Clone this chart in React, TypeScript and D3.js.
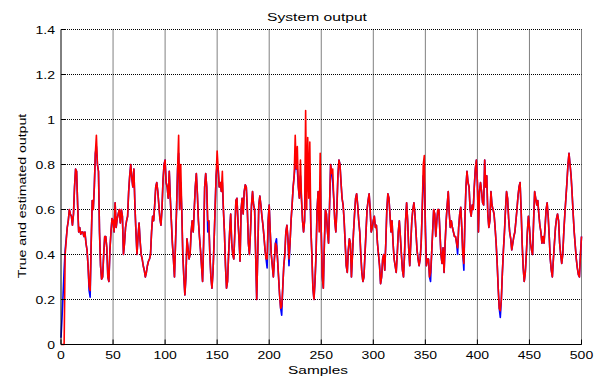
import React from "react";
import * as d3 from "d3";

// True system output, one value per sample (0..500)
const trueOutput: number[] = [
  0.03, 0.12, 0.22, 0.33, 0.42, 0.47, 0.52, 0.55, 0.60, 0.58,
  0.57, 0.53, 0.58, 0.70, 0.78, 0.77, 0.62, 0.50, 0.52, 0.49,
  0.50, 0.50, 0.48, 0.50, 0.45, 0.42, 0.35, 0.24, 0.21, 0.45,
  0.64, 0.60, 0.70, 0.85, 0.88, 0.80, 0.77, 0.50, 0.35, 0.29,
  0.30, 0.40, 0.48, 0.48, 0.43, 0.30, 0.28, 0.42, 0.50, 0.56,
  0.55, 0.50, 0.63, 0.52, 0.56, 0.58, 0.60, 0.54, 0.60, 0.57,
  0.40, 0.45, 0.52, 0.55, 0.57, 0.68, 0.75, 0.80, 0.74, 0.70,
  0.78, 0.62, 0.50, 0.40, 0.48, 0.54, 0.46, 0.40, 0.38, 0.35,
  0.33, 0.30, 0.32, 0.35, 0.37, 0.38, 0.40, 0.50, 0.57, 0.55,
  0.62, 0.70, 0.72, 0.68, 0.62, 0.56, 0.53, 0.60, 0.73, 0.80,
  0.82, 0.72, 0.70, 0.65, 0.77, 0.65, 0.55, 0.45, 0.38, 0.30,
  0.45, 0.60, 0.78, 0.85, 0.60, 0.72, 0.60, 0.40, 0.30, 0.22,
  0.30, 0.47, 0.43, 0.38, 0.40, 0.50, 0.55, 0.50, 0.60, 0.70,
  0.76, 0.67, 0.55, 0.48, 0.42, 0.35, 0.28, 0.45, 0.70, 0.76,
  0.70, 0.50, 0.55, 0.40, 0.30, 0.25, 0.32, 0.45, 0.60, 0.75,
  0.80, 0.78, 0.70, 0.72, 0.68, 0.72, 0.60, 0.50, 0.35, 0.25,
  0.28, 0.40, 0.50, 0.58, 0.45, 0.40, 0.38, 0.50, 0.64, 0.65,
  0.55, 0.47, 0.37, 0.60, 0.65, 0.58, 0.68, 0.71, 0.70, 0.60,
  0.45, 0.40, 0.50, 0.62, 0.68, 0.62, 0.60, 0.40, 0.20, 0.40,
  0.62, 0.66, 0.62, 0.57, 0.53, 0.48, 0.42, 0.38, 0.34, 0.55,
  0.62, 0.50, 0.40, 0.35, 0.30, 0.38, 0.45, 0.47, 0.38, 0.30,
  0.22, 0.16, 0.13, 0.25, 0.35, 0.40, 0.50, 0.53, 0.47, 0.35,
  0.45, 0.55, 0.62, 0.70, 0.75, 0.80, 0.78, 0.78, 0.70, 0.65,
  0.75, 0.65, 0.55, 0.50, 0.55, 0.80, 0.68, 0.80, 0.72, 0.75,
  0.52, 0.40, 0.25, 0.20, 0.28, 0.40, 0.60, 0.68, 0.55, 0.72,
  0.50, 0.30, 0.25, 0.45, 0.60, 0.58, 0.50, 0.45, 0.62, 0.80,
  0.76, 0.72, 0.65, 0.55, 0.50, 0.60, 0.75, 0.82, 0.80, 0.72,
  0.65, 0.62, 0.55, 0.45, 0.35, 0.32, 0.42, 0.47, 0.45, 0.30,
  0.40, 0.50, 0.58, 0.65, 0.67, 0.62, 0.55, 0.50, 0.40, 0.32,
  0.28, 0.30, 0.40, 0.50, 0.60, 0.64, 0.67, 0.60, 0.50, 0.52,
  0.55, 0.57, 0.52, 0.53, 0.45, 0.40, 0.35, 0.27, 0.30, 0.38,
  0.40, 0.33, 0.45, 0.60, 0.67, 0.65, 0.58, 0.50, 0.55, 0.45,
  0.38, 0.35, 0.32, 0.40, 0.50, 0.55, 0.48, 0.40, 0.33, 0.30,
  0.40, 0.55, 0.63, 0.55, 0.43, 0.35, 0.45, 0.55, 0.60, 0.63,
  0.58, 0.50, 0.42, 0.38, 0.35, 0.38, 0.45, 0.60, 0.75, 0.72,
  0.55, 0.35, 0.38, 0.38, 0.30, 0.28, 0.40, 0.50, 0.60, 0.58,
  0.48, 0.55, 0.60, 0.60, 0.50, 0.40, 0.36, 0.43, 0.32, 0.45,
  0.55, 0.62, 0.68, 0.58, 0.52, 0.55, 0.52, 0.50, 0.48, 0.48,
  0.45, 0.40, 0.52, 0.58, 0.61, 0.52, 0.40, 0.33, 0.55, 0.70,
  0.77, 0.72, 0.70, 0.60, 0.57, 0.62, 0.60, 0.70, 0.78, 0.82,
  0.72, 0.50, 0.68, 0.72, 0.68, 0.63, 0.62, 0.82, 0.70, 0.75,
  0.58, 0.52, 0.55, 0.68, 0.62, 0.60, 0.58, 0.52, 0.45, 0.36,
  0.25, 0.16, 0.12, 0.20, 0.32, 0.42, 0.50, 0.60, 0.68, 0.65,
  0.56, 0.50, 0.47, 0.42, 0.45, 0.48, 0.50, 0.55, 0.60, 0.66,
  0.70, 0.72, 0.60, 0.45, 0.34, 0.28, 0.32, 0.40, 0.50, 0.57,
  0.52, 0.45, 0.42, 0.40, 0.55, 0.68, 0.65, 0.62, 0.64, 0.58,
  0.53, 0.50, 0.45, 0.48, 0.45, 0.52, 0.60, 0.63, 0.57, 0.48,
  0.38, 0.33, 0.30, 0.38, 0.45, 0.52, 0.56, 0.58, 0.55, 0.45,
  0.40, 0.36, 0.40, 0.50, 0.58, 0.65, 0.72, 0.80, 0.85, 0.80,
  0.75, 0.67, 0.58, 0.50, 0.44, 0.38, 0.34, 0.31, 0.30, 0.40,
  0.48,
];

// Estimated output from the model, one value per sample (0..500)
const estimatedOutput: number[] = [
  0.00, 0.00, 0.00, 0.00, 0.40, 0.46, 0.52, 0.55, 0.60, 0.58,
  0.57, 0.53, 0.58, 0.70, 0.78, 0.77, 0.62, 0.50, 0.52, 0.49,
  0.50, 0.50, 0.48, 0.50, 0.45, 0.42, 0.35, 0.26, 0.24, 0.45,
  0.64, 0.60, 0.70, 0.85, 0.93, 0.80, 0.77, 0.50, 0.35, 0.29,
  0.30, 0.40, 0.48, 0.48, 0.43, 0.30, 0.28, 0.42, 0.50, 0.56,
  0.55, 0.50, 0.63, 0.52, 0.56, 0.58, 0.60, 0.54, 0.60, 0.57,
  0.40, 0.45, 0.52, 0.55, 0.57, 0.68, 0.75, 0.80, 0.74, 0.70,
  0.78, 0.62, 0.50, 0.40, 0.48, 0.54, 0.46, 0.40, 0.38, 0.35,
  0.33, 0.30, 0.32, 0.35, 0.37, 0.38, 0.40, 0.50, 0.57, 0.55,
  0.62, 0.70, 0.72, 0.68, 0.62, 0.56, 0.53, 0.60, 0.73, 0.80,
  0.82, 0.72, 0.70, 0.65, 0.77, 0.65, 0.55, 0.45, 0.38, 0.30,
  0.45, 0.60, 0.78, 0.93, 0.60, 0.80, 0.60, 0.40, 0.30, 0.22,
  0.30, 0.47, 0.43, 0.38, 0.40, 0.50, 0.55, 0.50, 0.60, 0.70,
  0.76, 0.67, 0.55, 0.48, 0.42, 0.35, 0.28, 0.45, 0.70, 0.76,
  0.70, 0.55, 0.55, 0.40, 0.30, 0.25, 0.32, 0.45, 0.60, 0.75,
  0.86, 0.78, 0.70, 0.72, 0.68, 0.77, 0.60, 0.50, 0.35, 0.25,
  0.28, 0.40, 0.50, 0.58, 0.45, 0.40, 0.38, 0.50, 0.64, 0.65,
  0.55, 0.47, 0.37, 0.60, 0.65, 0.58, 0.68, 0.71, 0.70, 0.60,
  0.45, 0.40, 0.50, 0.62, 0.68, 0.62, 0.60, 0.40, 0.20, 0.40,
  0.62, 0.66, 0.62, 0.57, 0.53, 0.48, 0.42, 0.38, 0.38, 0.55,
  0.62, 0.50, 0.40, 0.35, 0.30, 0.38, 0.45, 0.44, 0.38, 0.30,
  0.22, 0.16, 0.17, 0.25, 0.35, 0.40, 0.50, 0.53, 0.47, 0.38,
  0.45, 0.55, 0.62, 0.70, 0.75, 0.93, 0.78, 0.88, 0.70, 0.65,
  0.82, 0.65, 0.55, 0.50, 0.55, 1.04, 0.60, 0.92, 0.65, 0.90,
  0.52, 0.40, 0.25, 0.20, 0.28, 0.40, 0.60, 0.68, 0.50, 0.85,
  0.50, 0.30, 0.25, 0.45, 0.60, 0.58, 0.50, 0.45, 0.62, 0.80,
  0.76, 0.78, 0.65, 0.55, 0.50, 0.60, 0.75, 0.82, 0.80, 0.72,
  0.65, 0.62, 0.55, 0.45, 0.35, 0.32, 0.42, 0.47, 0.45, 0.30,
  0.40, 0.50, 0.58, 0.65, 0.67, 0.62, 0.55, 0.50, 0.40, 0.32,
  0.28, 0.30, 0.40, 0.50, 0.60, 0.64, 0.67, 0.60, 0.50, 0.52,
  0.55, 0.57, 0.52, 0.53, 0.45, 0.40, 0.35, 0.27, 0.30, 0.38,
  0.40, 0.33, 0.45, 0.60, 0.67, 0.65, 0.58, 0.50, 0.55, 0.45,
  0.38, 0.35, 0.32, 0.40, 0.50, 0.55, 0.48, 0.40, 0.33, 0.30,
  0.40, 0.55, 0.63, 0.55, 0.43, 0.35, 0.45, 0.55, 0.60, 0.63,
  0.58, 0.50, 0.42, 0.38, 0.35, 0.38, 0.45, 0.60, 0.80, 0.84,
  0.50, 0.35, 0.38, 0.38, 0.30, 0.32, 0.40, 0.50, 0.60, 0.58,
  0.48, 0.55, 0.60, 0.60, 0.50, 0.40, 0.36, 0.43, 0.32, 0.45,
  0.55, 0.62, 0.68, 0.58, 0.52, 0.55, 0.52, 0.50, 0.48, 0.48,
  0.45, 0.43, 0.52, 0.58, 0.61, 0.52, 0.40, 0.36, 0.55, 0.70,
  0.77, 0.72, 0.70, 0.60, 0.57, 0.62, 0.60, 0.70, 0.78, 0.82,
  0.72, 0.50, 0.68, 0.72, 0.68, 0.63, 0.62, 0.82, 0.70, 0.75,
  0.58, 0.52, 0.55, 0.68, 0.62, 0.60, 0.58, 0.52, 0.45, 0.36,
  0.25, 0.16, 0.15, 0.20, 0.32, 0.42, 0.50, 0.60, 0.68, 0.65,
  0.56, 0.50, 0.47, 0.42, 0.45, 0.48, 0.50, 0.55, 0.60, 0.66,
  0.70, 0.72, 0.60, 0.45, 0.34, 0.28, 0.32, 0.40, 0.50, 0.57,
  0.52, 0.45, 0.42, 0.40, 0.55, 0.68, 0.65, 0.62, 0.64, 0.58,
  0.53, 0.50, 0.45, 0.48, 0.45, 0.52, 0.60, 0.63, 0.57, 0.48,
  0.38, 0.33, 0.30, 0.38, 0.45, 0.52, 0.56, 0.58, 0.55, 0.45,
  0.40, 0.36, 0.40, 0.50, 0.58, 0.65, 0.72, 0.80, 0.85, 0.80,
  0.75, 0.67, 0.58, 0.50, 0.44, 0.38, 0.34, 0.31, 0.30, 0.40,
  0.48,
];

const xTicks: number[] = [0, 50, 100, 150, 200, 250, 300, 350, 400, 450, 500];
const yTicks: number[] = [0, 0.2, 0.4, 0.6, 0.8, 1, 1.2, 1.4];
const yTickLabels: string[] = ["0", "0.2", "0.4", "0.6", "0.8", "1", "1.2", "1.4"];

const titleText = "System output";
const xLabelText = "Samples";
const yLabelText = "True and estimated output";

const W = 594;
const H = 379;
const plot = { left: 61, right: 581.5, top: 29.5, bottom: 344.5 };
const FONT = "'Liberation Sans', Arial, Helvetica, sans-serif";
const FS = 11.5;

// Text drawn with a wide, Helvetica-like face (horizontally stretched glyphs)
function Label(props: {
  x: number;
  y: number;
  text: string;
  anchor: "start" | "middle" | "end";
  stretch: number;
  rotate?: number;
}) {
  const { x, y, text, anchor, stretch, rotate = 0 } = props;
  return (
    <text
      transform={`translate(${x},${y}) rotate(${rotate}) scale(${stretch},1)`}
      fontSize={FS}
      textAnchor={anchor}
      fill="#000"
    >
      {text}
    </text>
  );
}

export default function App() {
  const x = d3.scaleLinear().domain([0, 500]).range([plot.left, plot.right]);
  const y = d3.scaleLinear().domain([0, 1.4]).range([plot.bottom, plot.top]);

  const line = d3
    .line<number>()
    .x((_, i) => x(i))
    .y((v) => y(v));

  return (
    <svg
      width={W}
      height={H}
      style={{ position: "absolute", left: 0, top: 0, background: "#fff" }}
      fontFamily={FONT}
    >
      <rect x={0} y={0} width={W} height={H} fill="#fff" />

      {/* grid */}
      {xTicks.slice(1).map((t) => (
        <line
          key={"gx" + t}
          x1={x(t)}
          x2={x(t)}
          y1={plot.top}
          y2={plot.bottom}
          stroke="#000"
          strokeWidth={1}
          strokeDasharray="1,1"
        />
      ))}
      {yTicks.slice(1).map((t) => (
        <line
          key={"gy" + t}
          x1={plot.left}
          x2={plot.right}
          y1={y(t)}
          y2={y(t)}
          stroke="#000"
          strokeWidth={1}
          strokeDasharray="1,1"
        />
      ))}

      {/* series */}
      <path d={line(trueOutput) || ""} fill="none" stroke="#0000ff" strokeWidth={1.6} strokeLinejoin="round" />
      <path d={line(estimatedOutput) || ""} fill="none" stroke="#ff0000" strokeWidth={1.6} strokeLinejoin="round" />

      {/* axes */}
      <line x1={plot.left} x2={plot.right} y1={plot.bottom} y2={plot.bottom} stroke="#000" strokeWidth={1} />
      <line x1={plot.left} x2={plot.left} y1={plot.top} y2={plot.bottom} stroke="#000" strokeWidth={1} />
      {xTicks.map((t) => (
        <line key={"tx" + t} x1={x(t)} x2={x(t)} y1={plot.bottom} y2={plot.bottom - 5} stroke="#000" />
      ))}
      {yTicks.map((t) => (
        <line key={"ty" + t} x1={plot.left} x2={plot.left + 5} y1={y(t)} y2={y(t)} stroke="#000" />
      ))}

      {/* tick labels */}
      {xTicks.map((t) => (
        <Label key={"lx" + t} x={x(t)} y={359} text={String(t)} anchor="middle" stretch={1.22} />
      ))}
      {yTicks.map((t, i) => (
        <Label key={"ly" + t} x={55} y={y(t) + 4} text={yTickLabels[i]} anchor="end" stretch={1.22} />
      ))}

      <Label x={317} y={21} text={titleText} anchor="middle" stretch={1.36} />
      <Label x={318} y={374} text={xLabelText} anchor="middle" stretch={1.34} />
      <Label x={26} y={196} text={yLabelText} anchor="middle" stretch={1.23} rotate={-90} />
    </svg>
  );
}
